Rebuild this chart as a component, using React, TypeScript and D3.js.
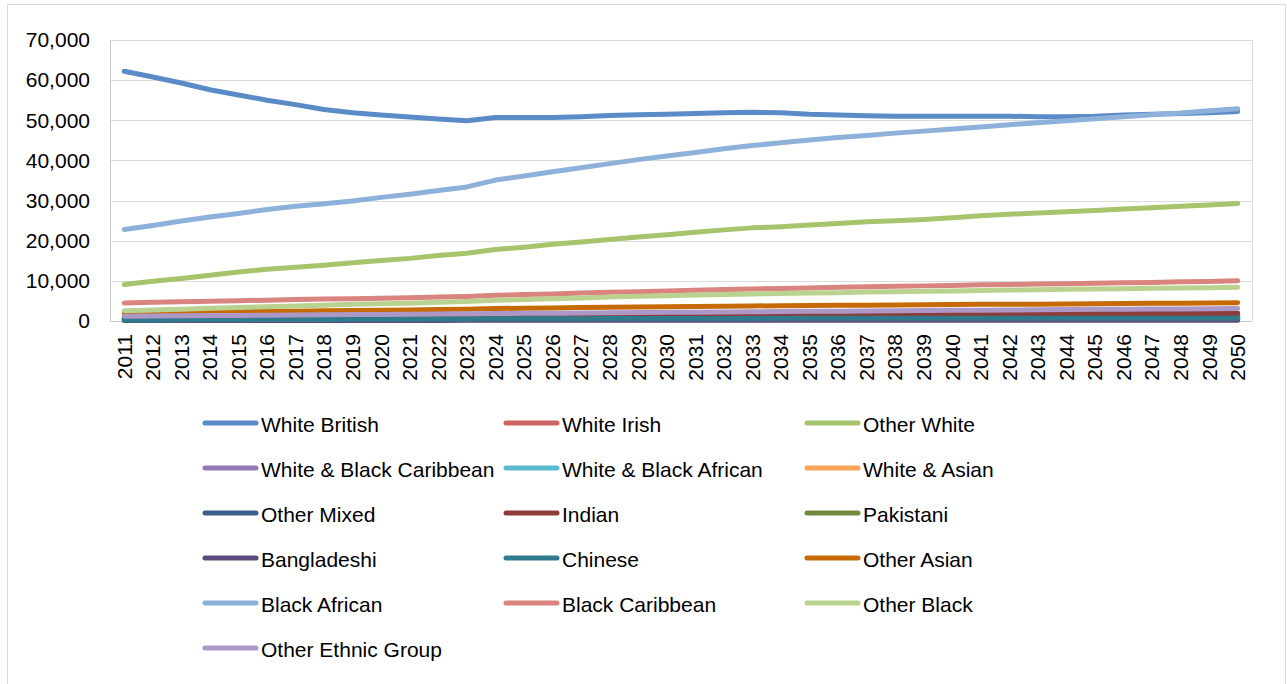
import React, { useRef, useEffect } from 'react';
import * as d3 from 'd3';

// Years on the category axis
const years: string[] = d3.range(2011, 2051).map(String);

// Series values, one per year (2011 - 2050)
const whiteBritish = [62200, 60800, 59300, 57600, 56300, 55000, 53900, 52700, 51900, 51300, 50800, 50300, 49900, 50700, 50700, 50700, 50900, 51200, 51400, 51500, 51700, 51900, 52000, 51900, 51500, 51300, 51100, 51000, 51000, 51000, 51000, 51000, 50900, 50900, 51000, 51300, 51500, 51700, 51900, 52200];
const whiteIrish = [1300, 1290, 1280, 1270, 1260, 1250, 1240, 1230, 1220, 1210, 1200, 1190, 1180, 1170, 1160, 1150, 1140, 1130, 1120, 1110, 1100, 1095, 1090, 1080, 1075, 1070, 1060, 1055, 1050, 1045, 1040, 1035, 1030, 1025, 1020, 1015, 1010, 1005, 1000, 1000];
const otherWhite = [9100, 9900, 10600, 11400, 12200, 12900, 13400, 13900, 14500, 15100, 15600, 16300, 16900, 17800, 18400, 19100, 19700, 20300, 20900, 21500, 22100, 22700, 23200, 23500, 23900, 24300, 24700, 25000, 25300, 25700, 26200, 26600, 26900, 27200, 27500, 27900, 28200, 28600, 28900, 29300];
const whiteBlackCaribbean = [1000, 1020, 1050, 1070, 1100, 1120, 1150, 1170, 1200, 1220, 1250, 1270, 1300, 1330, 1350, 1380, 1400, 1420, 1450, 1470, 1490, 1510, 1530, 1550, 1570, 1590, 1600, 1620, 1640, 1650, 1670, 1680, 1700, 1710, 1720, 1740, 1750, 1770, 1780, 1800];
const whiteBlackAfrican = [600, 620, 640, 650, 670, 690, 700, 720, 740, 750, 770, 790, 800, 820, 840, 860, 870, 890, 900, 920, 930, 950, 960, 980, 990, 1000, 1020, 1030, 1040, 1060, 1070, 1080, 1100, 1110, 1120, 1140, 1150, 1160, 1180, 1200];
const whiteAsian = [700, 720, 750, 780, 800, 830, 850, 880, 900, 930, 950, 980, 1000, 1030, 1060, 1090, 1110, 1140, 1160, 1190, 1210, 1240, 1260, 1280, 1300, 1320, 1340, 1360, 1380, 1400, 1420, 1440, 1460, 1480, 1500, 1510, 1530, 1550, 1580, 1600];
const otherMixed = [500, 510, 530, 540, 560, 570, 590, 600, 620, 630, 650, 660, 680, 690, 710, 720, 740, 750, 760, 780, 790, 800, 820, 830, 840, 850, 860, 870, 880, 890, 900, 910, 920, 930, 940, 950, 960, 970, 990, 1000];
const indian = [900, 930, 960, 1000, 1030, 1060, 1100, 1130, 1170, 1200, 1230, 1260, 1290, 1330, 1360, 1390, 1420, 1450, 1480, 1510, 1540, 1570, 1600, 1620, 1650, 1670, 1690, 1710, 1730, 1750, 1770, 1790, 1810, 1830, 1850, 1860, 1880, 1890, 1910, 1920];
const pakistani = [350, 360, 370, 370, 380, 390, 400, 400, 410, 420, 420, 430, 440, 450, 450, 460, 460, 470, 470, 480, 480, 490, 490, 500, 500, 500, 510, 510, 510, 520, 520, 520, 530, 530, 530, 540, 540, 540, 550, 550];
const bangladeshi = [120, 120, 130, 130, 130, 140, 140, 140, 150, 150, 150, 150, 160, 160, 160, 160, 170, 170, 170, 170, 170, 180, 180, 180, 180, 180, 190, 190, 190, 190, 190, 190, 200, 200, 200, 200, 200, 200, 200, 200];
const chinese = [250, 270, 290, 310, 340, 360, 380, 400, 420, 440, 460, 480, 500, 530, 550, 570, 590, 600, 620, 630, 640, 650, 650, 660, 660, 660, 670, 670, 670, 670, 680, 680, 680, 680, 680, 680, 680, 680, 680, 680];
const otherAsian = [2050, 2100, 2150, 2250, 2300, 2400, 2450, 2550, 2600, 2700, 2750, 2850, 2900, 3100, 3200, 3250, 3350, 3450, 3500, 3550, 3600, 3700, 3750, 3800, 3850, 3900, 3950, 4000, 4050, 4100, 4150, 4150, 4200, 4250, 4300, 4350, 4400, 4450, 4500, 4550];
const blackAfrican = [22800, 23800, 24900, 25900, 26800, 27800, 28600, 29200, 29900, 30800, 31600, 32500, 33400, 35100, 36100, 37200, 38200, 39200, 40200, 41100, 42000, 42900, 43700, 44400, 45100, 45700, 46200, 46800, 47300, 47800, 48300, 48900, 49400, 49900, 50400, 50900, 51400, 51800, 52400, 52900];
const blackCaribbean = [4500, 4650, 4800, 4950, 5050, 5200, 5350, 5450, 5550, 5650, 5800, 5950, 6100, 6400, 6600, 6750, 6950, 7150, 7300, 7450, 7650, 7850, 8000, 8100, 8250, 8400, 8550, 8650, 8750, 8850, 9000, 9100, 9200, 9300, 9400, 9500, 9600, 9750, 9850, 10000];
const otherBlack = [2550, 2750, 2950, 3150, 3350, 3550, 3750, 3950, 4150, 4300, 4450, 4650, 4850, 5150, 5350, 5550, 5750, 5950, 6150, 6300, 6450, 6600, 6750, 6850, 6950, 7050, 7200, 7300, 7400, 7500, 7600, 7700, 7800, 7900, 8000, 8050, 8150, 8250, 8300, 8400];
const otherEthnicGroup = [1200, 1240, 1300, 1340, 1400, 1440, 1500, 1540, 1600, 1650, 1700, 1740, 1800, 1860, 1900, 1950, 2000, 2040, 2100, 2150, 2200, 2240, 2300, 2340, 2400, 2440, 2500, 2540, 2600, 2650, 2700, 2740, 2800, 2840, 2900, 2920, 2960, 3000, 3050, 3100];

const seriesNames = [
    'White British', 'White Irish', 'Other White',
    'White & Black Caribbean', 'White & Black African', 'White & Asian',
    'Other Mixed', 'Indian', 'Pakistani',
    'Bangladeshi', 'Chinese', 'Other Asian',
    'Black African', 'Black Caribbean', 'Other Black',
    'Other Ethnic Group',
];
const seriesValues = [
    whiteBritish, whiteIrish, otherWhite,
    whiteBlackCaribbean, whiteBlackAfrican, whiteAsian,
    otherMixed, indian, pakistani,
    bangladeshi, chinese, otherAsian,
    blackAfrican, blackCaribbean, otherBlack,
    otherEthnicGroup,
];
const seriesColors = [
    '#5A8BC6', '#CC6461', '#A6C46C',
    '#917AB3', '#5ABACF', '#F9A558',
    '#3B5F89', '#8D3C3A', '#718A3E',
    '#5E4A7A', '#2F7B8D', '#C66A06',
    '#8EB1DA', '#D9847F', '#BAD28F',
    '#AC98C7',
];

const yTicks = [0, 10000, 20000, 30000, 40000, 50000, 60000, 70000];

const App: React.FC = () => {
    const ref = useRef<SVGSVGElement>(null);

    useEffect(() => {
        const svg = d3.select(ref.current);
        svg.selectAll('*').remove();

        const font = '"Liberation Sans", Arial, sans-serif';
        const plot = { left: 110, right: 1252, top: 40, bottom: 321 };

        // Outer chart border
        svg.append('rect')
            .attr('x', 7.5).attr('y', 4.5)
            .attr('width', 1278).attr('height', 700)
            .attr('fill', '#fff')
            .attr('stroke', '#D9D9D9');

        const x = d3.scalePoint<string>()
            .domain(years)
            .range([plot.left, plot.right])
            .padding(0.5);

        const y = d3.scaleLinear()
            .domain([0, 70000])
            .range([plot.bottom, plot.top]);

        // Gridlines
        svg.append('g').selectAll('line')
            .data(yTicks)
            .enter()
            .append('line')
            .attr('x1', plot.left).attr('x2', plot.right)
            .attr('y1', d => Math.round(y(d)) + 0.5)
            .attr('y2', d => Math.round(y(d)) + 0.5)
            .attr('stroke', '#DCDCDC');

        // Plot area border + axis
        svg.append('line')
            .attr('x1', plot.right + 0.5).attr('x2', plot.right + 0.5)
            .attr('y1', plot.top).attr('y2', plot.bottom)
            .attr('stroke', '#DCDCDC');
        svg.append('line')
            .attr('x1', plot.left + 0.5).attr('x2', plot.left + 0.5)
            .attr('y1', plot.top).attr('y2', plot.bottom + 1)
            .attr('stroke', '#C8C8C8');
        svg.append('line')
            .attr('x1', plot.left).attr('x2', plot.right)
            .attr('y1', plot.bottom + 0.5).attr('y2', plot.bottom + 0.5)
            .attr('stroke', '#C8C8C8');

        // Y tick labels
        const fmt = d3.format(',');
        svg.append('g').selectAll('text')
            .data(yTicks)
            .enter()
            .append('text')
            .attr('x', 90)
            .attr('y', d => y(d))
            .attr('dy', '0.35em')
            .attr('text-anchor', 'end')
            .style('font-family', font)
            .style('font-size', '21px')
            .style('fill', '#000')
            .text(d => fmt(d));

        // X tick labels (rotated)
        svg.append('g').selectAll('text')
            .data(years)
            .enter()
            .append('text')
            .attr('transform', d => `translate(${x(d)},334) rotate(-90)`)
            .attr('dy', '0.35em')
            .attr('text-anchor', 'end')
            .style('font-family', font)
            .style('font-size', '21px')
            .style('fill', '#000')
            .text(d => d);

        // Lines
        const line = d3.line<number>()
            .x((_, i) => x(years[i])!)
            .y(d => y(d));

        seriesValues.forEach((vals, i) => {
            svg.append('path')
                .datum(vals)
                .attr('d', line)
                .attr('fill', 'none')
                .attr('stroke', seriesColors[i])
                .attr('stroke-width', 5)
                .attr('stroke-linecap', 'round')
                .attr('stroke-linejoin', 'round');
        });

        // Legend, 3 columns
        const legend = svg.append('g');
        seriesNames.forEach((name, i) => {
            const col = i % 3;
            const row = Math.floor(i / 3);
            const lx = 203 + col * 301;
            const ly = 423 + row * 45;
            legend.append('line')
                .attr('x1', lx + 2).attr('x2', lx + 53)
                .attr('y1', ly).attr('y2', ly)
                .attr('stroke', seriesColors[i])
                .attr('stroke-width', 5)
                .attr('stroke-linecap', 'round');
            legend.append('text')
                .attr('x', lx + 58)
                .attr('y', ly + 2)
                .attr('dy', '0.35em')
                .style('font-family', font)
                .style('font-size', '21px')
                .style('fill', '#000')
                .text(name);
        });
    }, []);

    return (
        <>
            <style>{'body{margin:0}'}</style>
            <svg ref={ref} width={1287} height={684} style={{ display: 'block' }} />
        </>
    );
};

export default App;
